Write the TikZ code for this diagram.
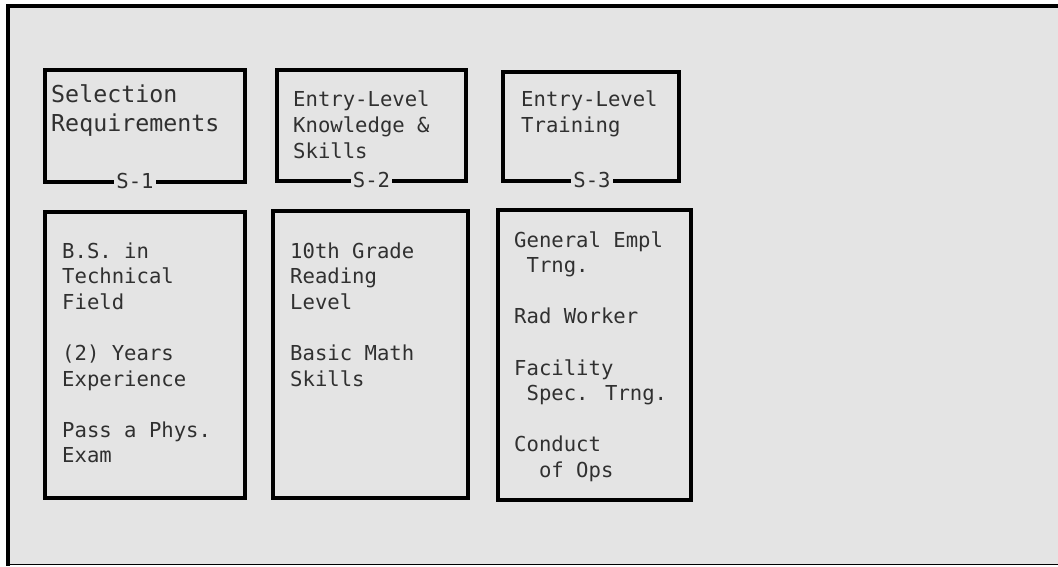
\documentclass[tikz,border=0pt]{standalone}
\usepackage{fontspec}
\newfontfamily\monof{DejaVu Sans Mono}
\definecolor{bggray}{HTML}{E4E4E4}
\definecolor{txtgray}{HTML}{303030}
\newcommand{\txtlines}[1]{\begin{tabular}[t]{@{}l@{}}#1\end{tabular}}
\tikzset{
  box/.style={draw=black, line width=4pt, rectangle, inner sep=0pt, outer sep=0pt},
  tag/.style={fill=bggray, inner xsep=2pt, inner ysep=0pt, text=txtgray, font=\monof\fontsize{20.6}{25.6}\selectfont},
  bodytext/.style={anchor=base west, inner sep=0pt, text=txtgray, font=\monof\fontsize{20.6}{25.6}\selectfont},
  headtext/.style={anchor=base west, inner sep=0pt, text=txtgray, font=\monof\fontsize{20.6}{26}\selectfont},
  bigheadtext/.style={anchor=base west, inner sep=0pt, text=txtgray, font=\monof\fontsize{23.3}{29}\selectfont}
}
\begin{document}
\begin{tikzpicture}[x=1pt, y=-1pt]
\useasboundingbox[fill=white] (0,0) rectangle (1058,566);
% frame
\fill[bggray] (10,8) rectangle (1058,564);
\fill[black] (6,4) rectangle (1058,8);
\fill[black] (6,4) rectangle (10,566);
\draw[black, line width=1pt] (10,564.5) -- (1058,564.5);
% upper boxes
\node[box, minimum width=200pt, minimum height=112pt] (u1) at (145,126) {};
\node[box, minimum width=189pt, minimum height=111pt] (u2) at (371.5,125.5) {};
\node[box, minimum width=176pt, minimum height=109pt] (u3) at (591,126.5) {};
% lower boxes
\node[box, minimum width=200pt, minimum height=286pt] (l1) at (145,355) {};
\node[box, minimum width=195pt, minimum height=287pt] (l2) at (370.5,354.5) {};
\node[box, minimum width=193pt, minimum height=290pt] (l3) at (594.5,355) {};
% tags on upper boxes
\node[tag] (s1) at ([xshift=-10pt, yshift=1.5pt]u1.south) {S-1};
\node[tag] (s2) at ([yshift=1.5pt]u2.south) {S-2};
\node[tag] (s3) at ([xshift=1pt, yshift=1.5pt]u3.south) {S-3};
% header texts
\node[bigheadtext] (t1) at (51,102.7) {\txtlines{Selection\\Requirements}};
\node[headtext] (t2) at (293,106.7) {\txtlines{Entry-Level\\Knowledge \&\\Skills}};
\node[headtext] (t3) at (521,106.7) {\txtlines{Entry-Level\\Training}};
% body texts
\node[bodytext] (b1) at (62,258) {\txtlines{B.S. in\\Technical\\Field\\{}\\(2) Years\\Experience\\{}\\Pass a Phys.\\Exam}};
\node[bodytext] (b2) at (290,258) {\txtlines{10th Grade\\Reading\\Level\\{}\\Basic Math\\Skills}};
\node[bodytext] (b3) at (514,247) {\txtlines{General Empl\\\phantom{x}Trng.\\{}\\Rad Worker\\{}\\Facility\\\phantom{x}Spec. Trng.\\{}\\Conduct\\\phantom{xx}of Ops}};
\end{tikzpicture}
\end{document}
